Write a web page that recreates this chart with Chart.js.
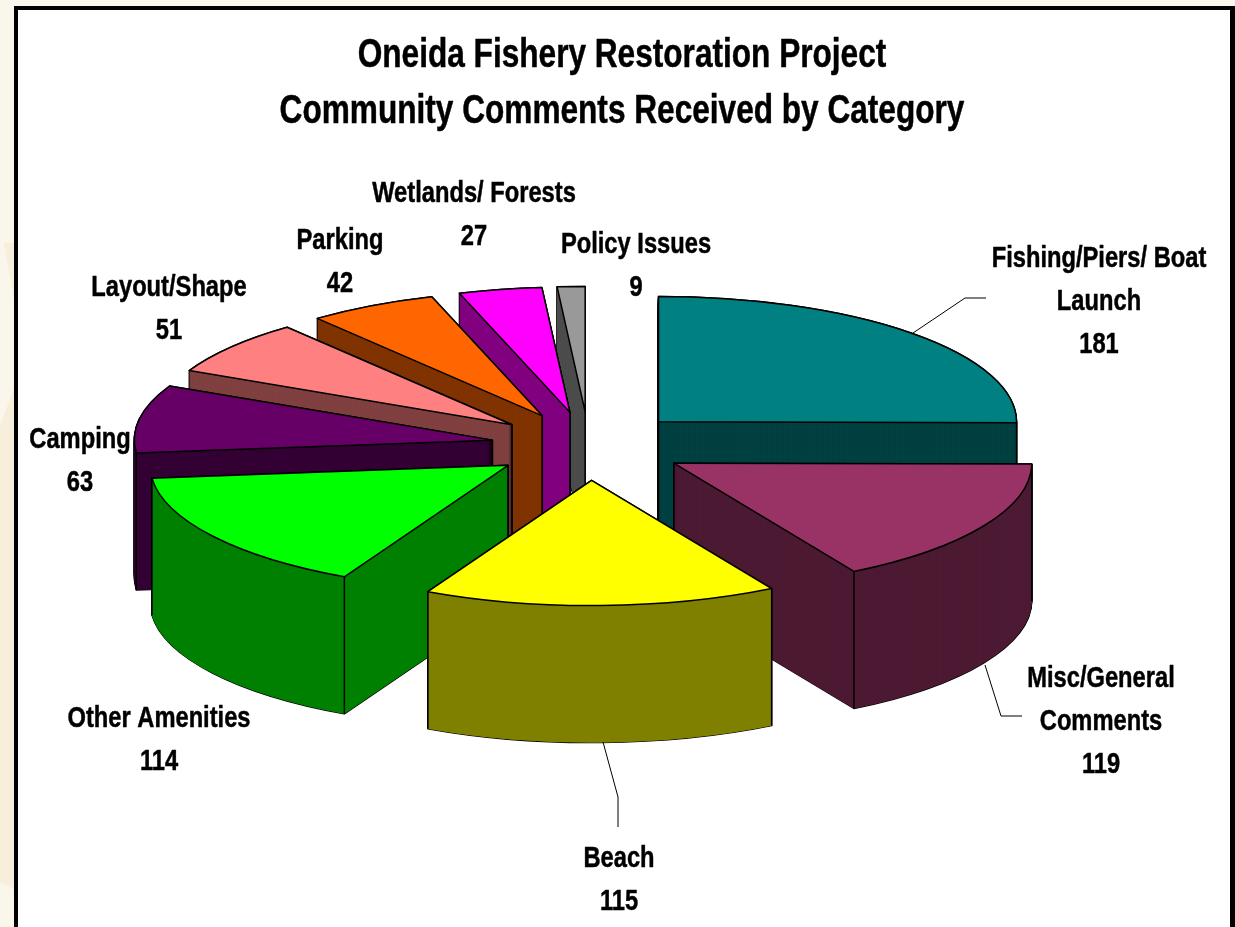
<!DOCTYPE html>
<html>
<head>
<meta charset="utf-8">
<style>
  html,body{margin:0;padding:0;width:1235px;height:927px;overflow:hidden;background:#fbf6eb}
  #shade{position:absolute;left:0;top:0;width:15px;height:927px;background:#f7efdb;
    clip-path:polygon(0 426px,15px 385px,15px 305px,4px 243px,15px 243px,15px 890px,0 882px)}
  #frame{position:absolute;left:14px;top:6px;width:1212px;height:960px;background:#fff;
    border:4px solid #000;border-right-width:5px;box-shadow:1px 1px 0 #b5ae9f}
  canvas{position:absolute;left:0;top:0}
</style>
</head>
<body>
<div id="shade"></div>
<div id="frame"></div>
<canvas id="pie" width="1235" height="927"></canvas>
<script src="https://cdn.jsdelivr.net/npm/chart.js@4/dist/chart.umd.min.js"></script>
<script>
const categories=['Fishing/Piers/ Boat Launch','Misc/General Comments','Beach','Other Amenities','Camping','Layout/Shape','Parking','Wetlands/ Forests','Policy Issues'];
const comments=[181,119,115,114,63,51,42,27,9];
const topColors=['#008080','#993366','#ffff00','#00ff00','#660066','#ff8080','#ff6600','#ff00ff','#999999'];
const sideColors=['#004040','#4d1a33','#808000','#008000','#330033','#804040','#803300','#800080','#4d4d4d'];
const titleLines=['Oneida Fishery Restoration Project','Community Comments Received by Category'];

// back to front, slices overlap each other
const drawOrder=[0,8,7,6,5,4,3,1,2];

// tilt and extrusion of the fake 3d pie
const flatten=0.35, explode=98, depth=137, pieRadius=358;
const textSquash=0.79;

// text blocks: centre x, first baseline, lines
const labelBlocks=[
  [1099,267,['Fishing/Piers/ Boat','Launch',comments[0]]],
  [1101,687,['Misc/General','Comments',comments[1]]],
  [619,867,['Beach',comments[2]]],
  [159,727,['Other Amenities',comments[3]]],
  [80,448,['Camping',comments[4]]],
  [169,296,['Layout/Shape',comments[5]]],
  [340,249,['Parking',comments[6]]],
  [474,202,['Wetlands/ Forests',comments[7]]],
  [636,253,['Policy Issues',comments[8]]]
];
const leaders=[
  [[913,333],[965,298],[986,298]],
  [[985,665],[1001,716],[1022,716]],
  [[603,742],[618,797],[618,827]]
];

function withSliceTransform(ctx,arc,drop,fn){
  const mid=(arc.startAngle+arc.endAngle)/2;
  ctx.save();
  ctx.translate(arc.x+Math.cos(mid)*explode,arc.y+Math.sin(mid)*explode*flatten+drop);
  ctx.scale(1,flatten);
  ctx.translate(-arc.x,-arc.y);
  fn();
  ctx.restore();
}

function slicePath(ctx,arc,drop){
  withSliceTransform(ctx,arc,drop,()=>{
    ctx.beginPath();
    ctx.moveTo(arc.x,arc.y);
    ctx.arc(arc.x,arc.y,arc.outerRadius,arc.startAngle,arc.endAngle);
    ctx.closePath();
  });
}

function verticalEdge(ctx,arc,radius,angle){
  const mid=(arc.startAngle+arc.endAngle)/2;
  const x=arc.x+Math.cos(mid)*explode+Math.cos(angle)*radius;
  const y=arc.y+(Math.sin(mid)*explode+Math.sin(angle)*radius)*flatten;
  ctx.beginPath();
  ctx.moveTo(x,y);
  ctx.lineTo(x,y+depth);
  ctx.stroke();
}

const pie3d={
  id:'pie3d',
  beforeDatasetsDraw(chart){
    const ctx=chart.ctx, arcs=chart.getDatasetMeta(0).data;
    drawOrder.forEach(i=>{
      const arc=arcs[i];
      ctx.lineWidth=1.5;
      ctx.strokeStyle='#000';
      ctx.lineJoin='round';
      // black pass leaves the silhouette outline
      ctx.fillStyle='#000';
      for(let d=depth;d>=0;d--){
        slicePath(ctx,arc,d);
        ctx.fill();
        ctx.stroke();
      }
      // twice, one pass lets faint stripes of the black through
      ctx.fillStyle=sideColors[i];
      for(let pass=0;pass<2;pass++){
        for(let d=depth;d>=0;d--){
          slicePath(ctx,arc,d);
          ctx.fill();
        }
      }
      // front facing corners of the side wall
      const a0=arc.startAngle,a1=arc.endAngle,down=Math.PI/2;
      if(Math.sin(a0)>=0)verticalEdge(ctx,arc,arc.outerRadius,a0);
      if(Math.sin(a1)>=0)verticalEdge(ctx,arc,arc.outerRadius,a1);
      if(!(a0<down&&a1>down))verticalEdge(ctx,arc,0,a0);
      // top face
      withSliceTransform(ctx,arc,0,()=>arc.draw(ctx));
      slicePath(ctx,arc,0);
      ctx.stroke();
    });
    return false;
  },
  afterDraw(chart){
    const ctx=chart.ctx;
    ctx.save();
    ctx.strokeStyle='#000';
    ctx.lineWidth=1;
    leaders.forEach(pts=>{
      ctx.beginPath();
      pts.forEach((p,k)=>k?ctx.lineTo(p[0],p[1]):ctx.moveTo(p[0],p[1]));
      ctx.stroke();
    });
    ctx.fillStyle='#000';
    ctx.textAlign='center';
    ctx.textBaseline='alphabetic';
    ctx.lineWidth=0.5;
    const put=(text,x,y)=>{
      ctx.save();
      ctx.translate(x,y);
      ctx.scale(textSquash,1);
      ctx.fillText(String(text),0,0);
      ctx.strokeText(String(text),0,0);
      ctx.restore();
    };
    ctx.font='bold 40px "Liberation Sans"';
    put(titleLines[0],622,67);
    put(titleLines[1],622,123);
    ctx.font='bold 30px "Liberation Sans"';
    labelBlocks.forEach(([x,y,lines])=>{
      lines.forEach((t,k)=>put(t,x,y+k*43));
    });
    ctx.restore();
  }
};

new Chart(document.getElementById('pie'),{
  type:'pie',
  data:{labels:categories,datasets:[{data:comments,backgroundColor:topColors,borderWidth:0}]},
  options:{
    responsive:false,
    animation:false,
    radius:pieRadius,
    layout:{padding:{right:57,bottom:35}},
    plugins:{legend:{display:false},tooltip:{enabled:false},title:{display:false}}
  },
  plugins:[pie3d]
});
</script>
</body>
</html>
